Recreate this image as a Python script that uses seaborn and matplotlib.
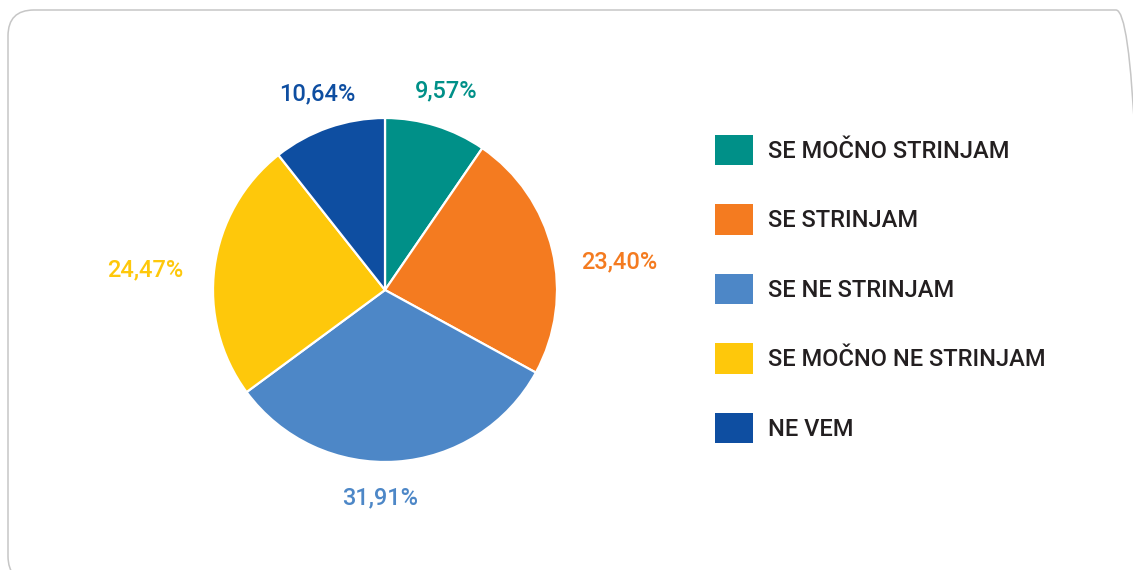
import numpy as np
import matplotlib
matplotlib.use("Agg")
import matplotlib.pyplot as plt
import matplotlib.patches as mpatches
from matplotlib.transforms import IdentityTransform
import seaborn as sns

# data
categories = ["SE MOČNO STRINJAM", "SE STRINJAM", "SE NE STRINJAM",
              "SE MOČNO NE STRINJAM", "NE VEM"]
shares = [9.57, 23.40, 31.91, 24.47, 10.64]
colors = ["#009088", "#F47B20", "#4D87C7", "#FEC80B", "#0E4EA1"]

sns.set_theme(style="white")
plt.rcParams['font.family'] = ['Roboto', 'DejaVu Sans']
palette = sns.color_palette(colors)

W, H, DPI = 1133, 570, 100
fig = plt.figure(figsize=(W / DPI, H / DPI), dpi=DPI)
fig.patch.set_facecolor("white")

# rounded frame, runs off the right and bottom edge
frame = mpatches.FancyBboxPatch((8, -12), 1134, 572,
                                boxstyle="round,pad=0,rounding_size=26",
                                transform=IdentityTransform(),
                                facecolor="none", edgecolor="#c6c6c6",
                                linewidth=1.1)
fig.patches.append(frame)

# pie: centre (385, 290 from top), radius 172 px
side = 516
ax = fig.add_axes([(385 - side / 2) / W, (H - 290 - side / 2) / H, side / W, side / H])

labels = [f"{v:.2f}%".replace(".", ",") for v in shares]
wedges, texts = ax.pie(shares, colors=palette, startangle=90, counterclock=False,
                       labels=labels, labeldistance=1.2,
                       wedgeprops=dict(edgecolor="white", linewidth=1.6),
                       textprops=dict(fontsize=17, fontweight="medium"))
ax.set_xlim(-1.5, 1.5)
ax.set_ylim(-1.5, 1.5)
ax.set_aspect("equal")
ax.axis("off")

# labels: centred above/below the pie, left/right aligned at the sides
for w, t, c in zip(wedges, texts, palette):
    t.set_color(c)
    ang = np.deg2rad((w.theta1 + w.theta2) / 2)
    if abs(np.cos(ang)) < 0.5:
        t.set_horizontalalignment("center")
        x = 1.2 * np.cos(ang) if np.sin(ang) > 0 else -0.03
        t.set_position((x, 1.21 * np.sin(ang)))
    else:
        dist = 1.14 if np.cos(ang) > 0 else 1.17
        t.set_position((dist * np.sign(np.cos(ang)), 0.5 * np.sin(ang) + 0.05))

handles = [mpatches.Patch(facecolor=c, edgecolor="none") for c in palette]
leg = fig.legend(handles, categories, loc="upper left",
                 bbox_to_anchor=(715 / W, 1 - 135 / H), bbox_transform=fig.transFigure,
                 frameon=False, prop=dict(size=17, weight="medium"),
                 borderpad=0, borderaxespad=0,
                 handlelength=1.61, handleheight=1.61, handletextpad=0.64,
                 labelspacing=1.65)
for t in leg.get_texts():
    t.set_color("#231f20")

fig.savefig("out.png", dpi=DPI, facecolor="white")
